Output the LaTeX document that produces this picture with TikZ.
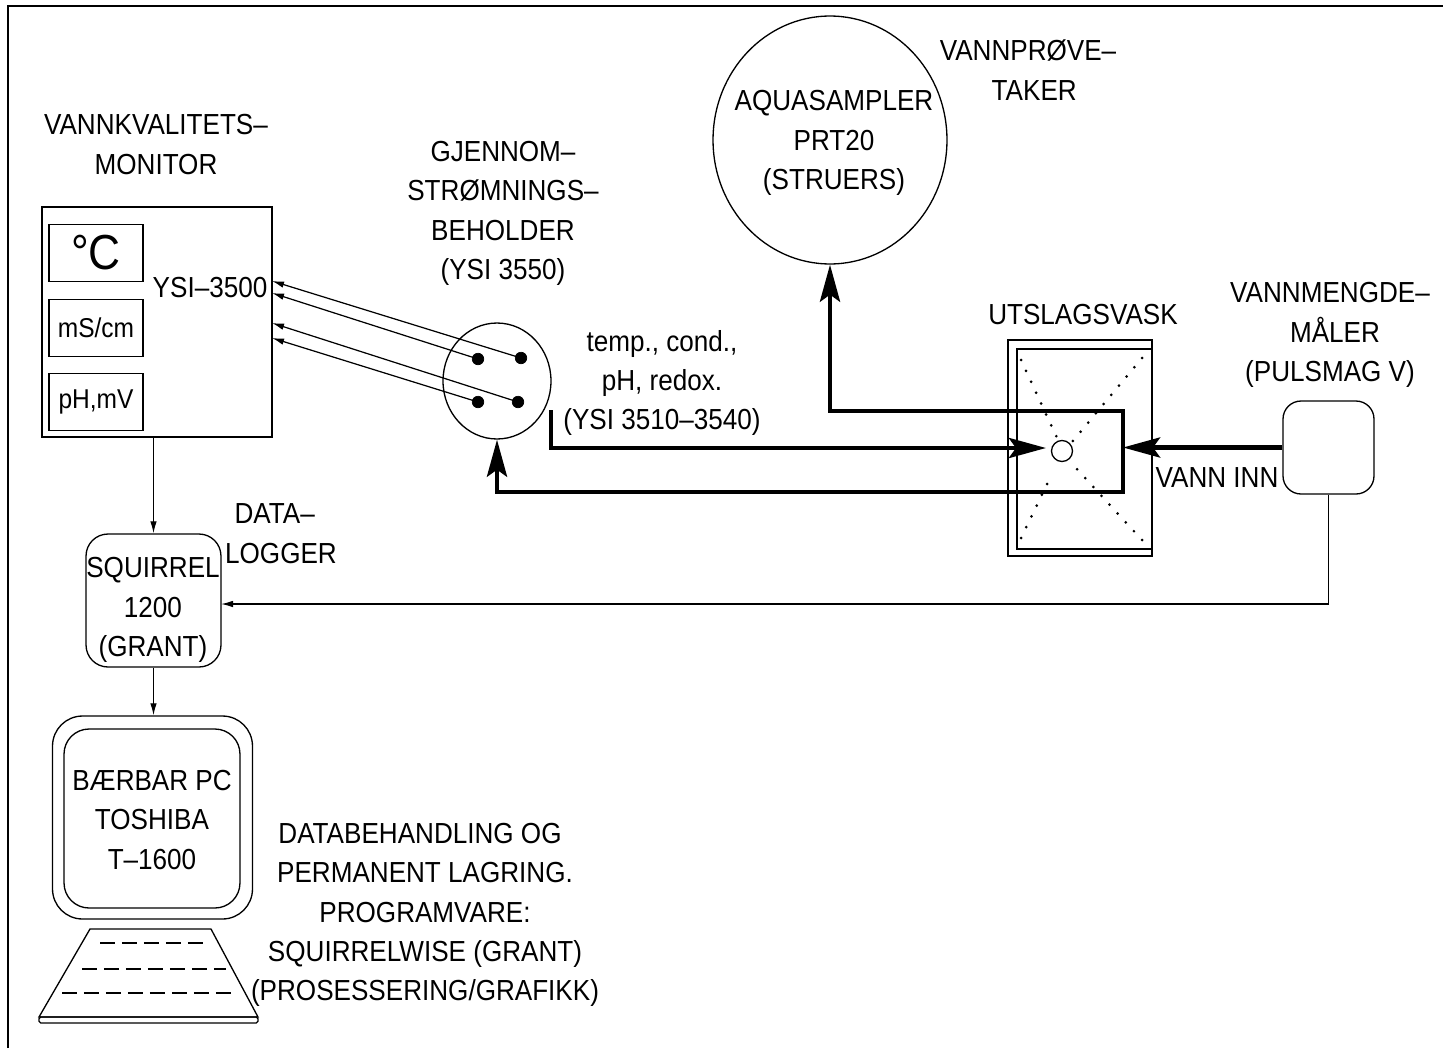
\documentclass[tikz,border=0pt]{standalone}
\usepackage{fontspec}
\setmainfont[FakeStretch=0.9]{Liberation Sans}
\usetikzlibrary{arrows.meta,shapes.geometric}

\begin{document}
\begin{tikzpicture}[
  x=0.02cm,y=-0.02cm,
  every node/.style={font=\fontsize{16.5}{22.4}\selectfont},
  lbl/.style={align=center,inner sep=0pt},
  panel/.style={rectangle,draw,line width=0.75pt,minimum width=1.88cm,minimum height=1.14cm,inner sep=0pt,font=\fontsize{15.5}{18}\selectfont},
  rbox/.style={rectangle,draw,line width=0.75pt,inner sep=0pt},
  pin/.style={circle,fill=black,draw,inner sep=0pt,minimum size=0.23cm},
  wire/.style={-{Latex[length=0.24cm,width=0.13cm]},line width=0.7pt},
  fatline/.style={line width=2.7pt},
  fatarrow/.style={-{Stealth[length=0.74cm,width=0.4cm,inset=0.14cm]},line width=2.7pt},
  gridline/.style={line width=1.7pt,line cap=round,dash pattern=on 0pt off 0.24cm},
  keyline/.style={line width=0.9pt,dash pattern=on 0.3cm off 0.14cm},
]
\useasboundingbox (0,0) rectangle (1443,1048);

% ---------- Frame ----------
\draw[line width=0.8pt] (8,1048) -- (8,6) -- (1443,6);

% ---------- Water quality monitor ----------
\node[lbl] (MONTXT) at (156,144.5) {VANNKVALITETS--\\MONITOR};
\node[rbox,minimum width=4.6cm,minimum height=4.6cm] (MON) at (157,322) {};
\node[panel,font=\fontsize{28}{30}\selectfont] (TEMP) at (96,253) {°C};
\node[panel] (COND) at (96,328) {mS/cm};
\node[panel] (PH) at (96,402) {pH,mV};
\node[lbl] (YSI) at (210,288) {YSI--3500};

\coordinate (W1) at (272,281);
\coordinate (W2) at (272,293);
\coordinate (W3) at (272,323);
\coordinate (W4) at (272,338);

% ---------- Flow-through vessel ----------
\node[lbl] (VESTXT) at (503,213.5) {GJENNOM--\\STRØMNINGS--\\BEHOLDER\\(YSI 3550)};
\node[rbox,ellipse,minimum width=2.16cm,minimum height=2.32cm] (VES) at (497,381) {};
\node[pin] (D1) at (521,358) {};
\node[pin] (D2) at (478,359) {};
\node[pin] (D3) at (518,402) {};
\node[pin] (D4) at (478,402) {};
\node[lbl] (PROBE) at (662,383) {temp., cond.,\\pH, redox.\\(YSI 3510--3540)};

\draw[wire] (D1.center) -- (W1);
\draw[wire] (D2.center) -- (W2);
\draw[wire] (D3.center) -- (W3);
\draw[wire] (D4.center) -- (W4);

% ---------- Water sampler ----------
\node[rbox,ellipse,minimum width=4.68cm,minimum height=4.96cm] (AQUA) at (830,140) {};
\node[lbl] (AQUATXT) at (834,143) {AQUASAMPLER\\PRT20\\(STRUERS)};
\node[lbl] (SAMPTXT) at (1028,70) {VANNPRØVE--\\\hspace*{0.25cm}TAKER};

% ---------- Sink ----------
\node[lbl] (SINKTXT) at (1083,315) {UTSLAGSVASK};
\node[rbox,minimum width=2.88cm,minimum height=4.32cm] (SINK) at (1080,448) {};
\node[rbox,minimum width=2.7cm,minimum height=4.0cm] (BASIN) at (1084.5,449) {};
\node[rbox,circle,minimum size=0.42cm] (DRAIN) at (1062,451) {};
\draw[gridline] (1021,360) -- (1058,440);
\draw[gridline] (1142,358) -- (1072,442);
\draw[gridline] (1021,538) -- (1051,476);
\draw[gridline] (1142,540) -- (1076,468);

% ---------- Flow meter ----------
\node[lbl] (METTXT) at (1330,335) {VANNMENGDE--\\\hspace*{0.2cm}MÅLER\\(PULSMAG V)};
\node[rbox,rounded corners=0.36cm,minimum width=1.82cm,minimum height=1.86cm] (METER) at (1328.5,447.5) {};
\node[lbl] (INTXT) at (1217,478) {VANN INN};

% ---------- Thick water lines ----------
\coordinate (TR) at (1123,411);
\coordinate (BR) at (1123,492);
\coordinate (FCOUT) at (551,410);
\coordinate (SINKIN) at (1046,448);

\draw[fatline,line cap=rect] (TR) -- (BR);
\draw[fatarrow] (TR) -| (AQUA.south);
\draw[fatarrow] (BR) -| (VES.south);
\draw[fatarrow] (FCOUT) |- (SINKIN);
\draw[fatarrow] (METER.west) -- (BR |- METER.west);

% ---------- Data logger ----------
\node[lbl] (LOGTXT) at (281,533.5) {\hspace*{-0.25cm}DATA--\\LOGGER};
\node[rbox,rounded corners=0.44cm,minimum width=2.7cm,minimum height=2.66cm] (SQ) at (153.5,600.5) {};
\node[lbl] (SQTXT) at (153,610) {SQUIRREL\\1200\\(GRANT)};
\coordinate (SQIN) at (221,604);

\draw[wire] (SQ.north |- MON.south) -- (SQ.north);
\draw[wire] (METER.south) |- (SQIN);

% ---------- Portable PC ----------
\node[rbox,rounded corners=0.6cm,minimum width=4cm,minimum height=4.06cm] (PC) at (152.5,817.5) {};
\node[rbox,rounded corners=0.5cm,minimum width=3.52cm,minimum height=3.58cm] (SCREEN) at (152,818.5) {};
\node[lbl] (PCTXT) at (152,820) {BÆRBAR PC\\TOSHIBA\\T--1600};
\draw[wire] (SQ.south) -- (SQ.south |- PC.north);

% ---------- Keyboard ----------
\draw[line width=0.75pt] (90,929) -- (211,929) -- (258,1017) -- (39,1017) -- cycle;
\draw[line width=0.75pt,rounded corners=1pt] (39,1017) rectangle (258,1023);
\draw[keyline] (100,943) -- (207,943);
\draw[keyline] (82,969) -- (226,969);
\draw[keyline] (62,993) -- (232,993);

% ---------- Processing note ----------
\node[lbl] (NOTE) at (425,915) {\hspace*{-0.2cm}DATABEHANDLING OG\\PERMANENT LAGRING.\\PROGRAMVARE:\\SQUIRRELWISE (GRANT)\\(PROSESSERING/GRAFIKK)};

\end{tikzpicture}
\end{document}
